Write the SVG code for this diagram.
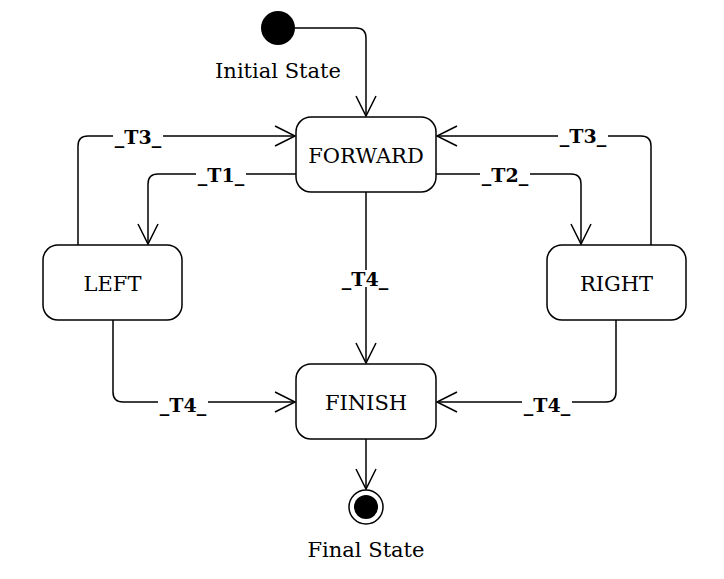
<svg xmlns="http://www.w3.org/2000/svg" width="724" height="579" viewBox="0 0 724 579">
<style>
.node{fill:#fff;stroke:#000;stroke-width:1.5}
.t{font-family:"DejaVu Serif",serif;font-size:21px;text-anchor:middle;fill:#000}
.e{fill:none;stroke:#000;stroke-width:1.5}
.lbg{fill:#fff}
.l{font-family:"DejaVu Serif",serif;font-size:19px;font-weight:bold;text-anchor:middle;fill:#000}
</style>
<defs>
<marker id="arr" markerUnits="userSpaceOnUse" markerWidth="24" markerHeight="24" refX="20" refY="10" orient="auto" viewBox="-2 -2 24 24">
<path d="M0,0 L20,10 L0,20" fill="none" stroke="#000" stroke-width="1.5"/>
</marker>
</defs>
<g id="connectors">
<path class="e" d="M295,28 H356 Q366,28 366,38 V116" marker-end="url(#arr)"/>
<path class="e" d="M78,245 V146 Q78,136 88,136 H295" marker-end="url(#arr)"/>
<path class="e" d="M296,174 H158 Q148,174 148,184 V244" marker-end="url(#arr)"/>
<path class="e" d="M436,174 H571 Q581,174 581,184 V244" marker-end="url(#arr)"/>
<path class="e" d="M651,245 V146 Q651,136 641,136 H437" marker-end="url(#arr)"/>
<path class="e" d="M366,192 V363" marker-end="url(#arr)"/>
<path class="e" d="M113,320 V392 Q113,402 123,402 H295" marker-end="url(#arr)"/>
<path class="e" d="M616,320 V392 Q616,402 606,402 H437" marker-end="url(#arr)"/>
<path class="e" d="M366,439 V489" marker-end="url(#arr)"/>
<rect class="lbg" x="113" y="128" width="50" height="18"/>
<text class="l" x="138" y="143.5">_T3_</text>
<rect class="lbg" x="196" y="166" width="50" height="18"/>
<text class="l" x="221" y="181.5">_T1_</text>
<rect class="lbg" x="480" y="166" width="50" height="18"/>
<text class="l" x="505" y="181.5">_T2_</text>
<rect class="lbg" x="558" y="127" width="50" height="18"/>
<text class="l" x="583" y="142.5">_T3_</text>
<rect class="lbg" x="340" y="270" width="50" height="17"/>
<text class="l" x="365" y="285.5">_T4_</text>
<rect class="lbg" x="158" y="395" width="50" height="18"/>
<text class="l" x="183" y="411.5">_T4_</text>
<rect class="lbg" x="522" y="395" width="50" height="18"/>
<text class="l" x="547" y="411.5">_T4_</text>
</g>
<g id="initial">
<circle cx="278" cy="28" r="17" fill="#000"/>
<text class="t" x="278" y="77.5">Initial State</text>
</g>
<g id="forward">
<rect class="node" x="296" y="117" width="140" height="75" rx="15"/>
<text class="t" x="366" y="162.5">FORWARD</text>
</g>
<g id="left">
<rect class="node" x="43" y="245" width="139" height="75" rx="15"/>
<text class="t" x="112.5" y="290.5">LEFT</text>
</g>
<g id="right">
<rect class="node" x="547" y="245" width="139" height="75" rx="15"/>
<text class="t" x="616.5" y="290.5">RIGHT</text>
</g>
<g id="finish">
<rect class="node" x="296" y="364" width="140" height="75" rx="15"/>
<text class="t" x="366" y="409.5">FINISH</text>
</g>
<g id="final">
<circle cx="366" cy="507" r="17" fill="#fff" stroke="#000" stroke-width="1.5"/>
<circle cx="366" cy="507" r="12" fill="#000"/>
<text class="t" x="366" y="556.5">Final State</text>
</g>
</svg>
